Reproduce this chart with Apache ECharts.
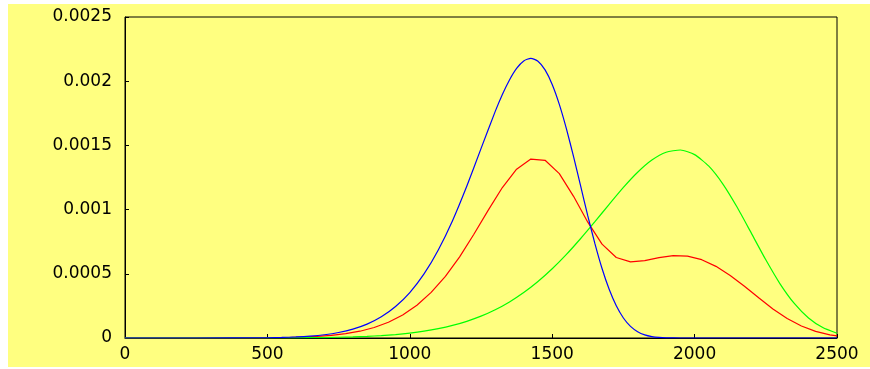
<!DOCTYPE html>
<html>
<head>
<meta charset="utf-8">
<script src="https://cdn.jsdelivr.net/npm/echarts@6/dist/echarts.min.js"></script>
<style>
html,body{margin:0;padding:0;background:#ffffff;}
#wrap{position:relative;width:870px;height:369px;background:#ffffff;overflow:hidden;}
#chart{position:absolute;left:8px;top:4px;width:862px;height:363px;background:#ffff80;}
</style>
</head>
<body>
<div id="wrap"><div id="chart"></div></div>
<script>
// X tick labels and Y tick labels
const xTickLabels = ['0', '500', '1000', '1500', '2000', '2500'];
const yTickLabels = ['0', '0.0005', '0.001', '0.0015', '0.002', '0.0025'];

// Blue series
const blueX = [0, 250, 500, 550, 600, 650, 700, 750, 800, 850, 900, 950, 1000, 1050, 1100, 1150, 1200, 1250, 1300,
  1325, 1350, 1375, 1400, 1425, 1450, 1475, 1500, 1525, 1550, 1575, 1600, 1625, 1650, 1675, 1700, 1725, 1750,
  1775, 1800, 1825, 1850, 1875, 1900, 1950, 2000, 2250, 2500];
const blueY = [0, 0, 0.000002, 0.0000042, 0.000008, 0.0000146, 0.0000254, 0.0000426, 0.0000689, 0.000108, 0.000165,
  0.000245, 0.000354, 0.000499, 0.000686, 0.000914, 0.001182, 0.001475, 0.001765,
  0.001897, 0.00201, 0.0021, 0.002158, 0.002178, 0.002156, 0.002088, 0.001975, 0.00182, 0.001629, 0.001412,
  0.001182, 0.000951, 0.000735, 0.000541, 0.000379, 0.000251, 0.000156,
  0.0000905, 0.0000491, 0.0000244, 0.0000112, 0.0000046, 0.0000017, 0, 0, 0, 0];

// Green series
const greenX = [0, 250, 500, 600, 700, 800, 850, 900, 950, 1000, 1050, 1100, 1150, 1200, 1250, 1300,
  1350, 1400, 1450, 1500, 1550, 1600, 1650, 1700, 1750, 1800,
  1850, 1900, 1950, 2000, 2050, 2100, 2150, 2200, 2250, 2300, 2350, 2400, 2450, 2500];
const greenY = [0, 0, 0.0000003, 0.0000012, 0.0000034, 0.0000084, 0.0000127, 0.0000187, 0.000027, 0.0000383,
  0.0000532, 0.0000728, 0.000098, 0.00013, 0.00017, 0.00022,
  0.000281, 0.000354, 0.00044, 0.000539, 0.000651, 0.000775, 0.000906, 0.001041, 0.001173, 0.001291,
  0.001386, 0.001447, 0.001464, 0.001428, 0.001338, 0.001197, 0.001016, 0.000813, 0.000609, 0.000422,
  0.000269, 0.000156, 0.0000812, 0.0000371];

// Red series
const redX = [0, 250, 475, 525, 575, 625, 675, 725, 775, 825, 875, 925,
  975, 1025, 1075, 1125, 1175, 1225, 1275, 1325, 1375, 1425,
  1475, 1525, 1575, 1625, 1675, 1725, 1775, 1825, 1875, 1925,
  1975, 2025, 2075, 2125, 2175, 2225, 2275, 2325, 2375, 2425, 2475, 2500];
const redY = [0, 0, 0.0000009, 0.00000195, 0.00000368, 0.00000671, 0.000012, 0.0000203, 0.0000334, 0.0000529, 0.0000816, 0.0001223,
  0.000179, 0.000255, 0.000355, 0.00048, 0.0006315, 0.000808, 0.000994, 0.001172, 0.001315, 0.0013935,
  0.001384, 0.00128, 0.0011035, 0.000902, 0.000731, 0.000627, 0.000593, 0.000603, 0.000626, 0.000642,
  0.000638, 0.0006098, 0.000558, 0.000487, 0.0004026, 0.0003128, 0.0002266, 0.0001518, 0.0000933, 0.0000519, 0.0000246, 0.000016];

function zip(xs, ys) { return xs.map((x, i) => [x, ys[i]]); }

const chart = echarts.init(document.getElementById('chart'), null, { renderer: 'canvas' });
const font = 'DejaVu Sans';
chart.setOption({
  backgroundColor: 'transparent',
  animation: false,
  grid: { left: 117, top: 13, right: 33, bottom: 29, show: true, borderColor: '#000000', borderWidth: 1, backgroundColor: 'transparent' },
  xAxis: {
    type: 'value', min: 0, max: 2500, interval: 500,
    axisLine: { show: true, lineStyle: { color: '#000000', width: 1 } },
    axisTick: { show: true, inside: true, length: 4, lineStyle: { color: '#000000' } },
    splitLine: { show: false },
    axisLabel: {
      color: '#000000', fontFamily: font, fontSize: 17, margin: 8,
      formatter: (v) => xTickLabels[Math.round(v / 500)]
    }
  },
  yAxis: {
    type: 'value', min: 0, max: 0.0025, interval: 0.0005,
    axisLine: { show: true, lineStyle: { color: '#000000', width: 1 } },
    axisTick: { show: true, inside: true, length: 4, lineStyle: { color: '#000000' } },
    splitLine: { show: false },
    axisLabel: {
      color: '#000000', fontFamily: font, fontSize: 17, margin: 13,
      formatter: (v) => yTickLabels[Math.round(v / 0.0005)]
    }
  },
  series: [
    { type: 'line', data: zip(redX, redY), showSymbol: false, lineStyle: { color: '#ff0000', width: 1.2 }, z: 2 },
    { type: 'line', data: zip(greenX, greenY), showSymbol: false, smooth: 0.2, lineStyle: { color: '#00ff00', width: 1.2 }, z: 3 },
    { type: 'line', data: zip(blueX, blueY), showSymbol: false, smooth: 0.2, lineStyle: { color: '#0000ff', width: 1.2 }, z: 4 }
  ]
});
</script>
</body>
</html>
